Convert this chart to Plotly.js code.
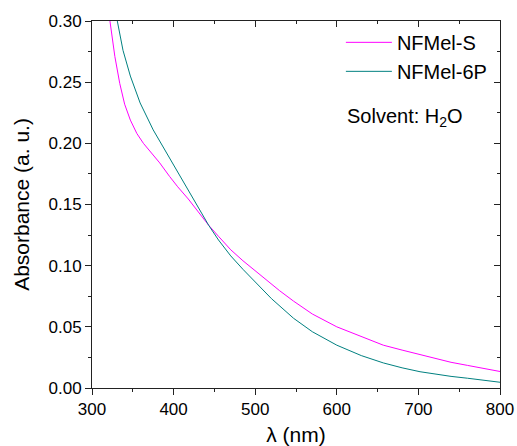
<!DOCTYPE html>
<html>
<head>
<meta charset="utf-8">
<script src="https://cdn.plot.ly/plotly-3.0.1.min.js"></script>
<style>html,body{margin:0;padding:0;background:#fff}#chart{width:517px;height:446px}</style>
</head>
<body>
<div id="chart"></div>
<script>
// NFMel-S (magenta)
const wlS = [322, 328, 334, 340, 347, 355, 363, 373, 383, 395, 405, 418, 430, 443, 455, 470, 485, 495, 512, 530, 547, 570, 600, 630, 657, 680, 702, 718, 740, 760, 780, 800];
const absS = [0.300, 0.271, 0.249, 0.232, 0.219, 0.208, 0.200, 0.192, 0.184, 0.173, 0.1645, 0.1545, 0.1445, 0.133, 0.124, 0.113, 0.104, 0.0985, 0.0895, 0.0795, 0.071, 0.0605, 0.050, 0.042, 0.035, 0.031, 0.0275, 0.0245, 0.021, 0.0185, 0.016, 0.0135];
// NFMel-6P (teal)
const wl6P = [331, 338, 347, 359, 375, 396, 404, 412, 424, 433, 443, 455, 470, 485, 498, 520, 547, 570, 600, 630, 657, 680, 702, 718, 740, 760, 780, 800];
const abs6P = [0.300, 0.276, 0.255, 0.233, 0.211, 0.187, 0.178, 0.1694, 0.1548, 0.1445, 0.133, 0.121, 0.108, 0.097, 0.088, 0.073, 0.057, 0.046, 0.035, 0.0265, 0.0205, 0.0165, 0.0133, 0.0115, 0.0095, 0.008, 0.0065, 0.0047];
const seriesNames = ["NFMel-S", "NFMel-6P"];
const xRange = [300, 800];
const yRange = [0, 0.30];

const font = "Arial, 'Liberation Sans', sans-serif";
const traces = [
  {x: wlS, y: absS, name: seriesNames[0], type: "scatter", mode: "lines", line: {color: "#ff00ff", width: 1}},
  {x: wl6P, y: abs6P, name: seriesNames[1], type: "scatter", mode: "lines", line: {color: "#008080", width: 1}}
];
const axisCommon = {showgrid: false, zeroline: false, showline: true, linecolor: "#222", linewidth: 1, tickcolor: "#222", tickwidth: 1};
const nb = "\u00a0\u00a0\u00a0\u00a0\u00a0\u00a0";
const layout = {
  width: 517, height: 446,
  margin: {l: 92, r: 17, t: 21, b: 58},
  paper_bgcolor: "#fff", plot_bgcolor: "#fff",
  font: {family: font, color: "#000", size: 17},
  showlegend: true,
  legend: {x: 0.61, y: 0.995, xanchor: "left", yanchor: "top", bgcolor: "rgba(0,0,0,0)", font: {family: font, size: 20}, tracegroupgap: 0, itemwidth: 46},
  xaxis: Object.assign({}, axisCommon, {
    range: xRange, dtick: 100, tick0: 300, ticks: "outside", ticklen: 6,
    minor: {dtick: 50, ticks: "outside", ticklen: 3, tickcolor: "#222"},
    tickfont: {family: font, size: 17},
    title: {text: "λ (nm)", font: {family: font, size: 21}, standoff: 8}
  }),
  yaxis: Object.assign({}, axisCommon, {
    range: yRange, dtick: 0.05, tick0: 0, tickformat: ".2f", ticks: "outside", ticklen: 6,
    minor: {dtick: 0.025, ticks: "outside", ticklen: 3, tickcolor: "#222"},
    tickfont: {family: font, size: 17},
    title: {text: nb + "Absorbance (a. u.)", font: {family: font, size: 21}, standoff: 13}
  }),
  xaxis2: Object.assign({}, axisCommon, {
    overlaying: "x", side: "top", anchor: "y", range: xRange, dtick: 100, tick0: 300,
    ticks: "inside", ticklen: 6, showticklabels: false,
    minor: {dtick: 50, ticks: "inside", ticklen: 3, tickcolor: "#222"}
  }),
  yaxis2: Object.assign({}, axisCommon, {
    overlaying: "y", side: "right", anchor: "x", range: yRange, dtick: 0.05, tick0: 0,
    ticks: "inside", ticklen: 6, showticklabels: false,
    minor: {dtick: 0.025, ticks: "inside", ticklen: 3, tickcolor: "#222"}
  }),
  annotations: [
    {xref: "paper", yref: "paper", x: 0.62, y: 0.738, xanchor: "left", yanchor: "middle", showarrow: false,
     text: "Solvent: H<sub>2</sub>O", font: {family: font, size: 20}}
  ]
};
// invisible trace to activate the mirrored axes
traces.push({x: [xRange[0]], y: [yRange[0]], xaxis: "x2", yaxis: "y2", mode: "markers", marker: {opacity: 0}, showlegend: false, hoverinfo: "skip"});
Plotly.newPlot("chart", traces, layout, {staticPlot: true, displayModeBar: false});
</script>
</body>
</html>
